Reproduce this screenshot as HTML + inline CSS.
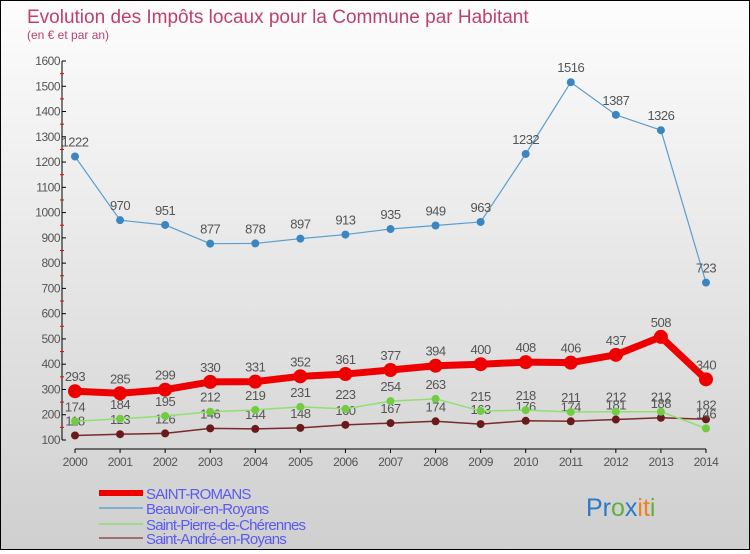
<!DOCTYPE html>
<html><head><meta charset="utf-8"><style>
body{margin:0;width:750px;height:550px;overflow:hidden;font-family:"Liberation Sans",sans-serif}
#c{position:absolute;left:0;top:0;width:748px;height:548px;border:1px solid #000;background:linear-gradient(#fdfdfd,#cfcfcf)}
</style></head><body>
<div id="c">
<svg id="s" width="748" height="548" xmlns="http://www.w3.org/2000/svg"></svg>
</div>
<script>
const years=[2000,2001,2002,2003,2004,2005,2006,2007,2008,2009,2010,2011,2012,2013,2014];
const romans=[293,285,299,330,331,352,361,377,394,400,408,406,437,508,340];
const beauvoir=[1222,970,951,877,878,897,913,935,949,963,1232,1516,1387,1326,723];
const pierre=[174,184,195,212,219,231,223,254,263,215,218,211,212,212,146];
const andre=[118,123,126,146,144,148,160,167,174,163,176,174,181,188,182];
const yTicks=[100,200,300,400,500,600,700,800,900,1000,1100,1200,1300,1400,1500,1600];
const ns="http://www.w3.org/2000/svg",s=document.getElementById('s');
const X=i=>74+i*45.07, Y=v=>439-(v-100)*379/1500;
function el(t,a,p){const e=document.createElementNS(ns,t);for(const k in a)e.setAttribute(k,a[k]);(p||s).appendChild(e);return e;}
function tx(x,y,str,a){const e=el('text',Object.assign({x:x,y:y,'font-size':12,fill:'#555'},a||{}));e.textContent=str;return e;}
let t=tx(26,22,'Evolution des Impôts locaux pour la Commune par Habitant',{'font-size':19,fill:'#c0406a'});

t=tx(26,38,'(en € et par an)',{'font-size':12,fill:'#c0406a'});

let ax=el('line',{x1:61,y1:Y(1600),x2:61,y2:Y(100),stroke:'#000'});

yTicks.forEach((v,i)=>{el('line',{x1:61,x2:65,y1:Y(v),y2:Y(v),stroke:'#000'});
 if(i<yTicks.length-1)el('line',{x1:59,x2:63,y1:Y(v+50),y2:Y(v+50),stroke:'#e00'});
 const l=tx(59,Y(v)+4,String(v),{'text-anchor':'end','letter-spacing':'-0.5'});
 });
ax=el('line',{x1:X(0),y1:448,x2:X(14),y2:448,stroke:'#000'});

years.forEach((y,i)=>{el('line',{x1:X(i),x2:X(i),y1:448,y2:452,stroke:'#000'});
 const l=tx(X(i),465,String(y),{'text-anchor':'middle','letter-spacing':'-0.5'});
 });
function series(d,col,w,r,name,dot){
 const p=el('polyline',{points:d.map((v,i)=>X(i)+','+Y(v)).join(' '),fill:'none',stroke:col,'stroke-width':w,'stroke-linejoin':'round'});
 
 d.forEach((v,i)=>{const c=el('circle',{cx:X(i),cy:Y(v),r:r,fill:dot});
  
  const l=tx(X(i),Y(v)-10,String(v),{'text-anchor':'middle','letter-spacing':'-0.5','font-size':13});
  });
}
series(andre,'#7a2a2a',1.5,4,'saint-andre','#6a1a1a');
series(pierre,'#90e070',1.5,4,'saint-pierre','#70cc40');
series(beauvoir,'#5a9ed0',1.2,4,'beauvoir','#3a86c0');
series(romans,'#ee0000',7,7,'saint-romans','#ee0000');
const leg=[['SAINT-ROMANS','#ee0000',6,492],['Beauvoir-en-Royans','#80b0d0',2,507],['Saint-Pierre-de-Chérennes','#a0d890',2,523],['Saint-André-en-Royans','#a07070',2,537]];
leg.forEach(l=>{const g=el('g',{});
 el('line',{x1:98,x2:142,y1:l[3],y2:l[3],stroke:l[1],'stroke-width':l[2]},g);
 const e=el('text',{x:145,y:l[3]+6,'font-size':15,fill:'#5a5af0','letter-spacing':'-0.8'},g);e.textContent=l[0];});
const lg=el('text',{x:585,y:515,'font-size':25});

[['Pr','#2a7ac8'],['o','#60b040'],['x','#2a7ac8'],['i','#f08020'],['t','#f08020'],['i','#60b040']].forEach(p=>{const ts=el('tspan',{fill:p[1]},lg);ts.textContent=p[0];});
</script>
</body></html>
